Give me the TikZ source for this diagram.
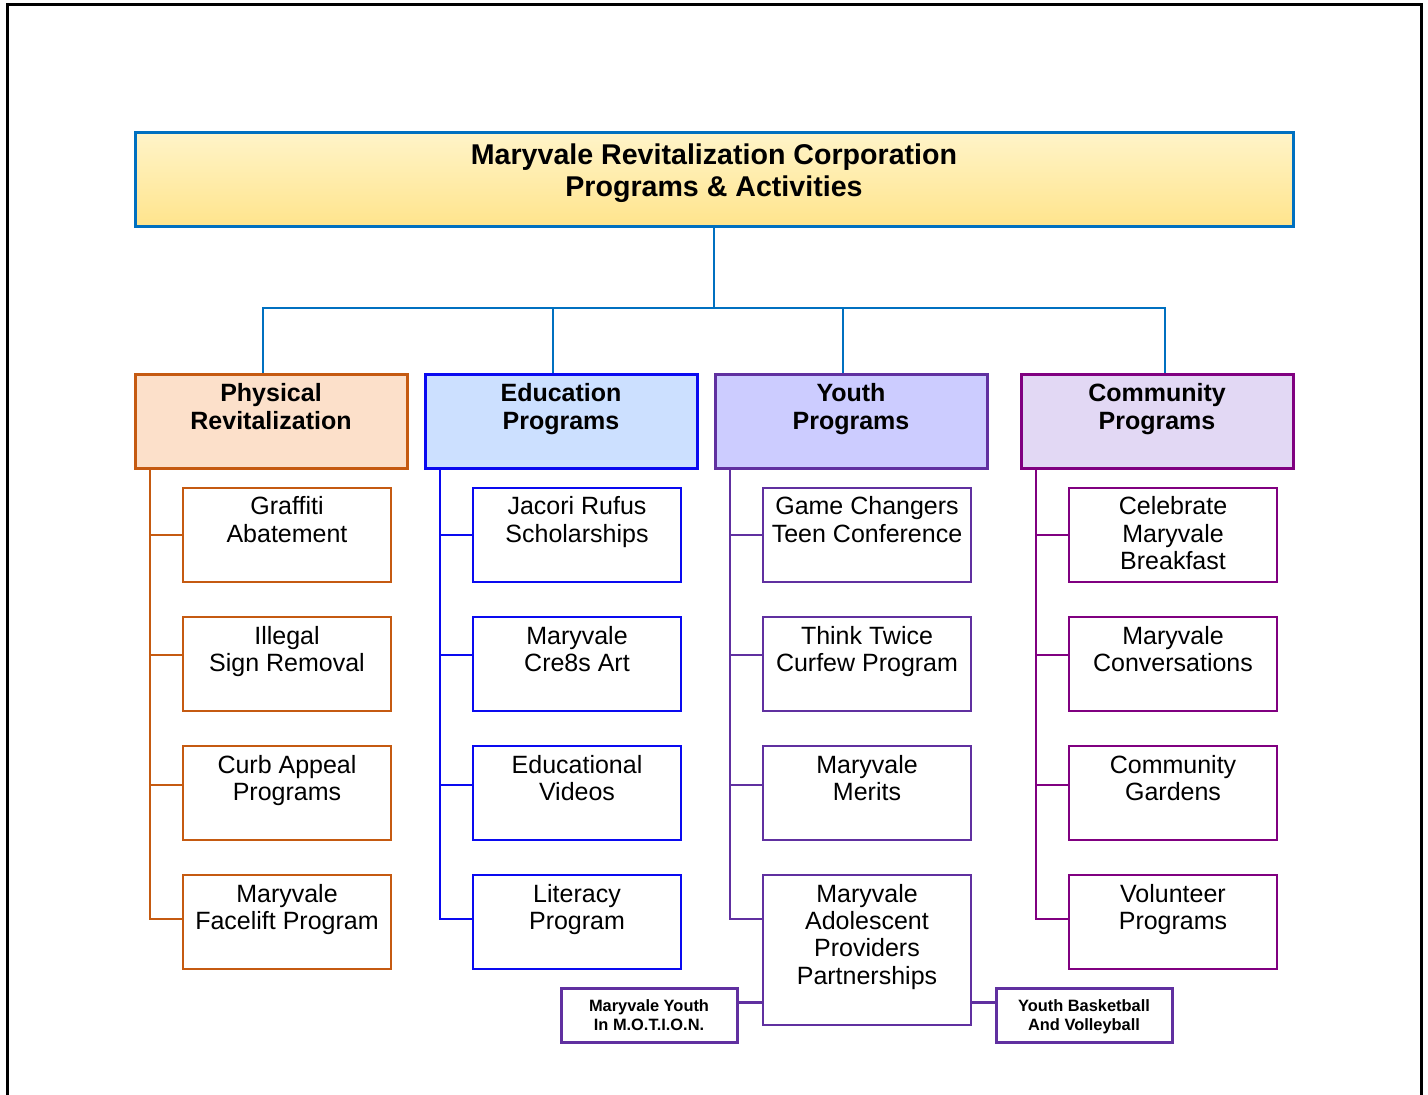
\documentclass[tikz,border=0pt]{standalone}
\usepackage{fontspec}
\setmainfont{Liberation Sans}

\definecolor{titleblue}{RGB}{0,112,192}
\definecolor{titletop}{RGB}{255,244,200}
\definecolor{titlebottom}{RGB}{255,228,140}
\definecolor{physline}{RGB}{197,90,17}
\definecolor{physfill}{RGB}{252,224,202}
\definecolor{eduline}{RGB}{10,10,240}
\definecolor{edufill}{RGB}{204,224,255}
\definecolor{youthline}{RGB}{96,48,160}
\definecolor{youthfill}{RGB}{204,204,255}
\definecolor{commline}{RGB}{128,0,128}
\definecolor{commfill}{RGB}{226,216,244}

% text blocks, first line hung from the top edge
\newcommand{\boxtitle}[1]{\parbox[c][47pt][t]{579pt}{\centering\rule{0pt}{15.75pt}#1}}
\newcommand{\boxcat}[1]{\parbox[c][47pt][t]{136pt}{\centering\rule{0pt}{13.5pt}#1}}
\newcommand{\boxsub}[2][47pt]{\parbox[c][#1][t]{104pt}{\centering\rule{0pt}{13.5pt}#2}}
\newcommand{\boxsmall}[1]{\parbox[c][27pt][t]{88pt}{\centering\rule{0pt}{11.5pt}#1}}

\tikzset{
  box/.style={draw, inner sep=0pt},
  titlebox/.style={box, line width=1.5pt, draw=titleblue, top color=titletop, bottom color=titlebottom, font=\bfseries\fontsize{14.3}{16}\selectfont},
  catbox/.style={box, line width=1.5pt, font=\bfseries\fontsize{12.5}{14}\selectfont},
  subbox/.style={box, line width=1.1pt, fill=white, font=\fontsize{12.5}{13.7}\selectfont},
  smallbox/.style={box, line width=1.5pt, draw=youthline, fill=white, font=\bfseries\fontsize{8.2}{9.75}\selectfont},
  toplink/.style={line width=1.4pt, titleblue},
  spine/.style={line width=1.3pt},
  twig/.style={line width=0.6pt}
}

\begin{document}
\begin{tikzpicture}[x=0.5pt, y=-0.5pt]
\useasboundingbox (0,0) rectangle (1428,1095);
% Frame
    \draw[line width=1.5pt] (7,1095) -- (7,5) -- (1421,5) -- (1421,1095);
% Title
    \node[titlebox] (title) at (714,180) {\boxtitle{Maryvale Revitalization Corporation\\Programs \& Activities}};
% Categories
    \node[catbox, draw=physline, fill=physfill] (phys) at (271,422) {\boxcat{Physical\\Revitalization}};
    \node[catbox, draw=eduline, fill=edufill] (edu) at (561,422) {\boxcat{Education\\Programs}};
    \node[catbox, draw=youthline, fill=youthfill] (youth) at (851,422) {\boxcat{Youth\\Programs}};
    \node[catbox, draw=commline, fill=commfill] (comm) at (1157,422) {\boxcat{Community\\Programs}};
% Links from the title
    \coordinate (bus) at (714,308);
    \draw[toplink] (title.south) -- (bus);
    \draw[toplink] ([xshift=-4pt]phys.north) -- ([xshift=-4pt]phys.north |- bus) -- ([xshift=4pt]comm.north |- bus) -- ([xshift=4pt]comm.north);
    \draw[toplink] ([xshift=-4pt]edu.north) -- ([xshift=-4pt]edu.north |- bus);
    \draw[toplink] ([xshift=-4pt]youth.north) -- ([xshift=-4pt]youth.north |- bus);
% Physical Revitalization
    \node[subbox, draw=physline] (p1) at (287,535) {\boxsub{Graffiti\\Abatement}};
    \node[subbox, draw=physline] (p2) at (287,664) {\boxsub{Illegal\\Sign Removal}};
    \node[subbox, draw=physline] (p3) at (287,793) {\boxsub{Curb Appeal\\Programs}};
    \node[subbox, draw=physline] (p4) at (287,922) {\boxsub{Maryvale\\Facelift Program}};
    \coordinate (pspine) at ([xshift=8.25pt]phys.south west);
    \coordinate (p2tap) at ([yshift=4.5pt]p2.west);
    \coordinate (p3tap) at ([yshift=4pt]p3.west);
    \coordinate (p4tap) at ([yshift=-22.5pt]p4.north west);
    \draw[spine, physline] (pspine) |- (p4tap);
    \draw[spine, physline] (pspine |- p1.west) -- (p1.west);
    \draw[twig, physline] (pspine |- p2tap) -- (p2tap);
    \draw[twig, physline] (pspine |- p3tap) -- (p3tap);
% Education Programs
    \node[subbox, draw=eduline] (e1) at (577,535) {\boxsub{Jacori Rufus\\Scholarships}};
    \node[subbox, draw=eduline] (e2) at (577,664) {\boxsub{Maryvale\\Cre8s Art}};
    \node[subbox, draw=eduline] (e3) at (577,793) {\boxsub{Educational\\Videos}};
    \node[subbox, draw=eduline] (e4) at (577,922) {\boxsub{Literacy\\Program}};
    \coordinate (espine) at ([xshift=8.25pt]edu.south west);
    \coordinate (e2tap) at ([yshift=4.5pt]e2.west);
    \coordinate (e3tap) at ([yshift=4pt]e3.west);
    \coordinate (e4tap) at ([yshift=-22.5pt]e4.north west);
    \draw[spine, eduline] (espine) |- (e4tap);
    \draw[spine, eduline] (espine |- e1.west) -- (e1.west);
    \draw[twig, eduline] (espine |- e2tap) -- (e2tap);
    \draw[twig, eduline] (espine |- e3tap) -- (e3tap);
% Youth Programs
    \node[subbox, draw=youthline] (y1) at (867,535) {\boxsub{Game Changers\\Teen Conference}};
    \node[subbox, draw=youthline] (y2) at (867,664) {\boxsub{Think Twice\\Curfew Program}};
    \node[subbox, draw=youthline] (y3) at (867,793) {\boxsub{Maryvale\\Merits}};
    \node[subbox, draw=youthline] (y4) at (867,950) {\boxsub[75pt]{Maryvale\\Adolescent\\Providers\\Partnerships}};
    \coordinate (yspine) at ([xshift=8.25pt]youth.south west);
    \coordinate (y2tap) at ([yshift=4.5pt]y2.west);
    \coordinate (y3tap) at ([yshift=4pt]y3.west);
    \coordinate (y4tap) at ([yshift=-22.5pt]y4.north west);
    \draw[spine, youthline] (yspine) |- (y4tap);
    \draw[spine, youthline] (yspine |- y1.west) -- (y1.west);
    \draw[twig, youthline] (yspine |- y2tap) -- (y2tap);
    \draw[twig, youthline] (yspine |- y3tap) -- (y3tap);
% Partnerships
    \node[smallbox] (motion) at (649,1015) {\boxsmall{Maryvale Youth\\In M.O.T.I.O.N.}};
    \node[smallbox] (sports) at (1084,1015) {\boxsmall{Youth Basketball\\And Volleyball}};
    \coordinate (motiontap) at ([yshift=6.5pt]motion.east);
    \coordinate (sportstap) at ([yshift=6.5pt]sports.west);
    \draw[line width=1.5pt, youthline] (motiontap) -- (y4.west |- motiontap);
    \draw[line width=1.5pt, youthline] (sportstap) -- (y4.east |- sportstap);
% Community Programs
    \node[subbox, draw=commline] (c1) at (1173,535) {\boxsub{Celebrate\\Maryvale\\Breakfast}};
    \node[subbox, draw=commline] (c2) at (1173,664) {\boxsub{Maryvale\\Conversations}};
    \node[subbox, draw=commline] (c3) at (1173,793) {\boxsub{Community\\Gardens}};
    \node[subbox, draw=commline] (c4) at (1173,922) {\boxsub{Volunteer\\Programs}};
    \coordinate (cspine) at ([xshift=8.25pt]comm.south west);
    \coordinate (c2tap) at ([yshift=4.5pt]c2.west);
    \coordinate (c3tap) at ([yshift=4pt]c3.west);
    \coordinate (c4tap) at ([yshift=-22.5pt]c4.north west);
    \draw[spine, commline] (cspine) |- (c4tap);
    \draw[spine, commline] (cspine |- c1.west) -- (c1.west);
    \draw[twig, commline] (cspine |- c2tap) -- (c2tap);
    \draw[twig, commline] (cspine |- c3tap) -- (c3tap);
\end{tikzpicture}
\end{document}
